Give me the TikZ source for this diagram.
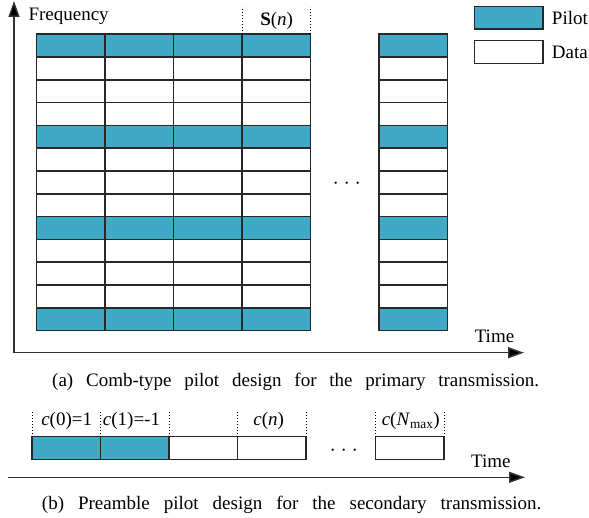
\documentclass[tikz,border=0pt]{standalone}
\usepackage{fontspec}
\setmainfont{Liberation Serif}
\usetikzlibrary{arrows.meta,positioning}
\definecolor{pilotblue}{RGB}{64,170,198}
\definecolor{gridgray}{RGB}{40,40,40}

\begin{document}
\begin{tikzpicture}[
  x=1pt, y=-1pt,
  font=\fontsize{19}{22}\selectfont,
  >={Triangle[length=16pt, width=11pt, fill=black]},
  cell/.style={rectangle, draw=gridgray, line width=1.5pt, fill=white,
    minimum width=68.5pt, minimum height=22.8pt, inner sep=0pt, outer sep=0pt},
  pilot/.style={cell, fill=pilotblue},
  axisline/.style={line width=1.5pt, draw=black!80},
  marker/.style={dotted, line width=1pt},
  txt/.style={inner sep=0pt, anchor=base}
]
\useasboundingbox (0,0) rectangle (589,518);

% Comb-type grid
\foreach \c/\xc in {0/70.95,1/139.45,2/207.95,3/276.45,4/413.45}
  \foreach \r in {0,...,12} {
    \pgfmathtruncatemacro{\rowmod}{mod(\r,4)}
    \ifnum\rowmod=0 \def\kind{pilot}\else\def\kind{cell}\fi
    \node[\kind] (g-\c-\r) at (\xc, 45.6+22.8*\r) {};
  }

% Axes
\coordinate (origin) at (14,352.7);
\coordinate (ftop) at (14,1);
\coordinate (tend) at (524,352.7);
\draw[axisline, <->] (ftop) -- (origin) -- (tend);

% Labels
\node[txt, anchor=base west] (freq) at (28.3,20.5) {Frequency};
\node[txt] (sn) at (276.7,25.5) {\textbf{S}(\textit{n})};
\draw[marker] (g-3-0.north west) -- ++(0,-27);
\draw[marker] (g-3-0.north east) -- ++(0,-27);
\node[txt] (timea) at (494.5,342.7) {Time};
\node[txt] (dotsa) at (346.8,189.5) {· · ·};

% Legend
\node[pilot] (legpilot) at (508.5,17.7) {};
\node[cell] (legdata) at (508.5,52) {};
\node[txt, anchor=west, right=9pt of legpilot] (pilotlab) {Pilot};
\node[txt, anchor=west, right=9pt of legdata] (datalab) {Data};

% Caption (a)
\node[txt] (capa) at (295.7,386.7)
  {\spaceskip=12.8pt\relax (a) Comb-type pilot design for the primary transmission.};

% Preamble blocks
\node[pilot] (p-0) at (66.25,448) {};
\node[pilot] (p-1) at (134.75,448) {};
\node[cell] (p-2) at (203.25,448) {};
\node[cell] (p-3) at (271.75,448) {};
\node[cell] (p-last) at (409.75,448) {};
\foreach \a in {p-0.north west,p-0.north east,p-1.north east,
                p-3.north west,p-3.north east,p-last.north west,p-last.north east}
  \draw[marker] (\a) -- ++(0,-26.7);
\node[txt] (c0) at (66.7,425.5) {\textit{c}(0)=1};
\node[txt] (c1) at (131.5,425.5) {\textit{c}(1)=-1};
\node[txt] (cn) at (268.7,425.5) {\textit{c}(\textit{n})};
\node[txt] (cmax) at (410.8,425.5) {\textit{c}(\textit{N}\textsubscript{max})};
\node[txt] (dotsb) at (343.8,456) {· · ·};

% Time axis (b)
\coordinate (bstart) at (8,477.3);
\coordinate (bend) at (525,477.3);
\draw[axisline, ->] (bstart) -- (bend);
\node[txt] (timeb) at (490.8,467.3) {Time};

% Caption (b)
\node[txt] (capb) at (291.7,509)
  {\spaceskip=14pt\relax (b) Preamble pilot design for the secondary transmission.};
\end{tikzpicture}
\end{document}
